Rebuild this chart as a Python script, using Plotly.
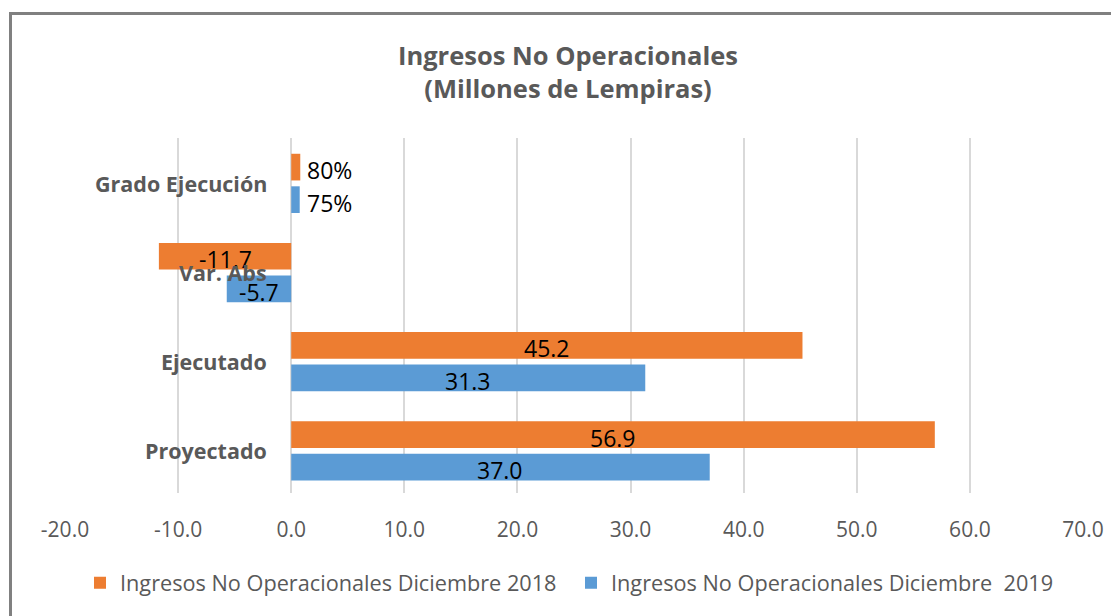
import plotly.graph_objects as go

# ---- data ----
categories = ["Proyectado", "Ejecutado", "Var. Abs", "Grado Ejecución"]
values_2018 = [56.9, 45.2, -11.7, 0.80]
values_2019 = [37.0, 31.3, -5.7, 0.75]
is_percent = [False, False, False, True]
series_names = ["Ingresos No Operacionales Diciembre 2018",
                "Ingresos No Operacionales Diciembre  2019"]
x_ticks = [-20, -10, 0, 10, 20, 30, 40, 50, 60, 70]
title_lines = ["Ingresos No Operacionales", "(Millones de Lempiras)"]

# ---- style ----
ORANGE = "#ED7D31"
BLUE = "#5B9BD5"
GRAY = "#595959"
GRID = "#D9D9D9"
FONT = "Open Sans"
OFF = 8  # page body margin
W, H = 1119 - OFF, 616 - OFF
ML, MT = 65 - OFF, 138 - OFF
PW, PH = 1018, 358
MR, MB = W - ML - PW, H - MT - PH
BARGAP, GROUPGAP = 0.27, 0.18
Y_RANGE = [-0.473, 3.509]


def px_x(sx):  # screen x -> paper x
    return (sx - OFF - ML) / PW


def px_y(sy):  # screen y -> paper y
    return (MT + PH - (sy - OFF)) / PH


def fmt(v, pct):
    return f"{v * 100:.0f}%" if pct else f"{v:.1f}"


fig = go.Figure()
# 2019 first -> bottom bar of each group
fig.add_trace(go.Bar(y=categories, x=values_2019, orientation="h",
                     name=series_names[1], marker=dict(color=BLUE, line=dict(width=0))))
fig.add_trace(go.Bar(y=categories, x=values_2018, orientation="h",
                     name=series_names[0], marker=dict(color=ORANGE, line=dict(width=0))))

annotations = []
offset = (1 - BARGAP) / 4  # half slot in category units
for vals, sign in ((values_2018, 1), (values_2019, -1)):
    for i, (v, pct) in enumerate(zip(vals, is_percent)):
        if pct:
            annotations.append(dict(x=v, y=i + sign * offset, xref="x", yref="y",
                                    text=fmt(v, pct), showarrow=False, xanchor="left",
                                    xshift=5, yshift=-3,
                                    font=dict(family=FONT, size=23, color="#000000")))
        else:
            annotations.append(dict(x=v / 2, y=i + sign * offset, xref="x", yref="y",
                                    text=fmt(v, pct), showarrow=False, xanchor="center",
                                    yshift=-3,
                                    font=dict(family=FONT, size=23, color="#000000")))

# category labels next to the vertical axis at 0
for i, c in enumerate(categories):
    annotations.append(dict(x=0, y=i, xref="x", yref="y", text=f"<b>{c}</b>",
                            showarrow=False, xanchor="right", xshift=-22,
                            font=dict(family=FONT, size=21.5, color=GRAY)))

# title
annotations.append(dict(x=px_x(568), y=px_y(71), xref="paper", yref="paper",
                        text="<b>" + "<br>".join(title_lines) + "</b>", showarrow=False,
                        xanchor="center", yanchor="middle",
                        font=dict(family=FONT, size=25.5, color=GRAY)))

border = dict(color="#808080", width=3)
shapes = [
    dict(type="line", xref="paper", yref="paper",
         x0=px_x(10.5), x1=px_x(10.5), y0=px_y(12.5), y1=px_y(640), line=border),
    dict(type="line", xref="paper", yref="paper",
         x0=px_x(9), x1=px_x(1140), y0=px_y(12.5), y1=px_y(12.5), line=border),
]

fig.update_layout(
    width=W, height=H,
    margin=dict(l=ML, r=MR, t=MT, b=MB, pad=0),
    paper_bgcolor="white", plot_bgcolor="white",
    barmode="group", bargap=BARGAP, bargroupgap=GROUPGAP,
    font=dict(family=FONT, color=GRAY),
    showlegend=True,
    legend=dict(orientation="h", x=px_x(80), xanchor="left",
                y=px_y(587), yanchor="middle", traceorder="reversed",
                entrywidth=446, entrywidthmode="pixels",
                font=dict(family=FONT, size=21.7, color=GRAY)),
    annotations=annotations,
    shapes=shapes,
)
fig.update_xaxes(range=[x_ticks[0], x_ticks[-1]], tickvals=x_ticks,
                 ticktext=[f"{t:.1f}" for t in x_ticks],
                 showgrid=True, gridcolor=GRID, gridwidth=1.5,
                 zeroline=True, zerolinecolor=GRID, zerolinewidth=1.5,
                 showline=False, ticks="", ticklabelstandoff=22,
                 tickfont=dict(family=FONT, size=21, color=GRAY), fixedrange=True)
fig.update_yaxes(showticklabels=False, showgrid=False, zeroline=False,
                 showline=False, ticks="", range=Y_RANGE, fixedrange=True)

fig.write_html("out.html")
